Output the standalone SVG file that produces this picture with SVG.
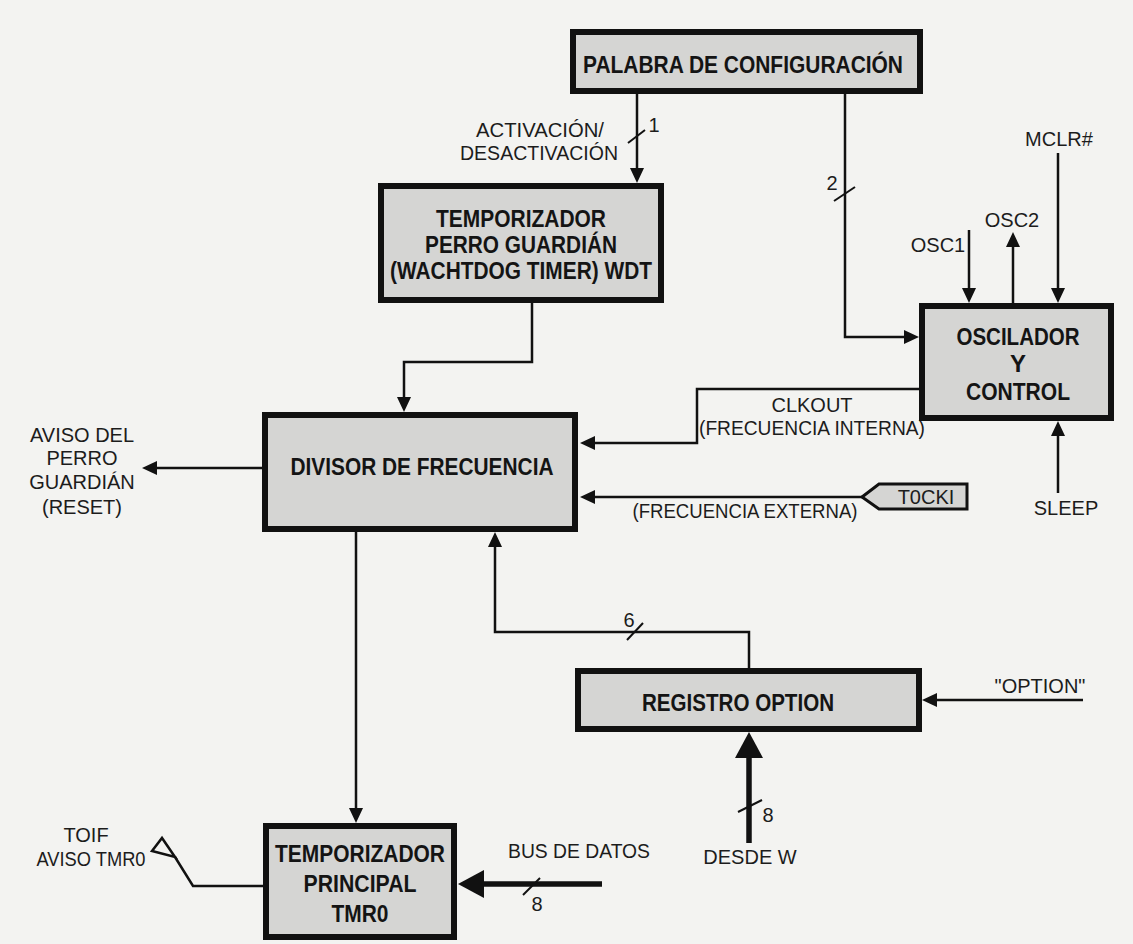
<svg xmlns="http://www.w3.org/2000/svg" width="1133" height="944" viewBox="0 0 1133 944">
  <style>
    .box { fill: #d5d5d3; stroke: #111; stroke-width: 6; }
    .tag { fill: #d5d5d3; stroke: #111; stroke-width: 3; }
    .node { font-family: "Liberation Sans", Arial, sans-serif; font-weight: bold; font-size: 24px; fill: #141414; text-anchor: middle; }
    .lbl { font-family: "Liberation Sans", Arial, sans-serif; font-size: 20px; fill: #1c1c1c; text-anchor: middle; }
    .wire { fill: none; stroke: #111; stroke-width: 2.5; }
    .bus { fill: none; stroke: #111; stroke-width: 5.5; }
    .tick { stroke: #111; stroke-width: 2; }
  </style>
  <defs>
    <marker id="arrow" markerUnits="userSpaceOnUse" markerWidth="16" markerHeight="16" viewBox="0 -8 16 16" refX="0" refY="0" orient="auto">
      <path d="M0,-7 L15,0 L0,7 Z" fill="#111"/>
    </marker>
    <marker id="arrowBig" markerUnits="userSpaceOnUse" markerWidth="28" markerHeight="32" viewBox="0 -16 28 32" refX="0" refY="0" orient="auto">
      <path d="M0,-14 L26,0 L0,14 Z" fill="#111"/>
    </marker>
  </defs>

  <rect width="1133" height="944" fill="#f3f3f1"/>

  <!-- connectors -->
  <g id="connectors">
    <path class="wire" d="M637,94 V168" marker-end="url(#arrow)"/>
    <path class="wire" d="M845,94 V337 H904" marker-end="url(#arrow)"/>
    <path class="wire" d="M969,230 V288" marker-end="url(#arrow)"/>
    <path class="wire" d="M1013,303 V247" marker-end="url(#arrow)"/>
    <path class="wire" d="M1058,153 V288" marker-end="url(#arrow)"/>
    <path class="wire" d="M1058,493 V436" marker-end="url(#arrow)"/>
    <path class="wire" d="M919,389 H697 V443 H595" marker-end="url(#arrow)"/>
    <path class="wire" d="M862,497 H595" marker-end="url(#arrow)"/>
    <path class="wire" d="M532,303 V362 H404 V397" marker-end="url(#arrow)"/>
    <path class="wire" d="M262,468 H157" marker-end="url(#arrow)"/>
    <path class="wire" d="M356,532 V808" marker-end="url(#arrow)"/>
    <path class="wire" d="M749,668 V632 H495 V547" marker-end="url(#arrow)"/>
    <path class="wire" d="M1083,700 H937" marker-end="url(#arrow)"/>
    <path class="bus" d="M749,843 V758" marker-end="url(#arrowBig)"/>
    <path class="bus" d="M602,884 H484" marker-end="url(#arrowBig)"/>
    <path class="wire" d="M263,886 H193 L175,857"/>
    <polygon class="wire" points="175,857 162,838 152,851"/>

    <!-- bit-width ticks -->
    <line class="tick" x1="628" y1="143" x2="645" y2="130"/>
    <line class="tick" x1="834" y1="201" x2="855" y2="187"/>
    <line class="tick" x1="627" y1="640" x2="643" y2="623"/>
    <line class="tick" x1="738" y1="812" x2="762" y2="800"/>
    <line class="tick" x1="523" y1="895" x2="540" y2="878"/>

    <text class="lbl" x="654" y="132">1</text>
    <text class="lbl" x="832" y="190">2</text>
    <text class="lbl" x="629" y="627">6</text>
    <text class="lbl" x="768" y="822">8</text>
    <text class="lbl" x="537" y="911">8</text>
  </g>

  <!-- signal labels -->
  <g id="labels">
    <text class="lbl" x="540" y="137" textLength="128" lengthAdjust="spacingAndGlyphs">ACTIVACIÓN/</text>
    <text class="lbl" x="539" y="160" textLength="158" lengthAdjust="spacingAndGlyphs">DESACTIVACIÓN</text>
    <text class="lbl" x="1059" y="146">MCLR#</text>
    <text class="lbl" x="1012" y="227">OSC2</text>
    <text class="lbl" x="938" y="252">OSC1</text>
    <text class="lbl" x="1066" y="515">SLEEP</text>
    <text class="lbl" x="812" y="412">CLKOUT</text>
    <text class="lbl" x="812" y="435" textLength="226" lengthAdjust="spacingAndGlyphs">(FRECUENCIA INTERNA)</text>
    <text class="lbl" x="745" y="518" textLength="225" lengthAdjust="spacingAndGlyphs">(FRECUENCIA EXTERNA)</text>
    <text class="lbl" x="82" y="442">AVISO DEL</text>
    <text class="lbl" x="82" y="465">PERRO</text>
    <text class="lbl" x="82" y="489">GUARDIÁN</text>
    <text class="lbl" x="82" y="514">(RESET)</text>
    <text class="lbl" x="1040" y="693">"OPTION"</text>
    <text class="lbl" x="750" y="864">DESDE W</text>
    <text class="lbl" x="579" y="858" textLength="142" lengthAdjust="spacingAndGlyphs">BUS DE DATOS</text>
    <text class="lbl" x="86" y="842">TOIF</text>
    <text class="lbl" x="91" y="866" textLength="109" lengthAdjust="spacingAndGlyphs">AVISO TMR0</text>
  </g>

  <g id="palabra">
    <rect class="box" x="573" y="32" width="347" height="59"/>
    <text class="node" x="743" y="73" textLength="320" lengthAdjust="spacingAndGlyphs">PALABRA DE CONFIGURACIÓN</text>
  </g>

  <g id="wdt">
    <rect class="box" x="381" y="186" width="280" height="114"/>
    <text class="node" x="521" y="227" textLength="170" lengthAdjust="spacingAndGlyphs">TEMPORIZADOR</text>
    <text class="node" x="521" y="253" textLength="192" lengthAdjust="spacingAndGlyphs">PERRO GUARDIÁN</text>
    <text class="node" x="521" y="279" textLength="262" lengthAdjust="spacingAndGlyphs">(WACHTDOG TIMER) WDT</text>
  </g>

  <g id="oscilador">
    <rect class="box" x="922" y="306" width="189" height="112"/>
    <text class="node" x="1018" y="345" textLength="123" lengthAdjust="spacingAndGlyphs">OSCILADOR</text>
    <text class="node" x="1018" y="372">Y</text>
    <text class="node" x="1018" y="400" textLength="104" lengthAdjust="spacingAndGlyphs">CONTROL</text>
  </g>

  <g id="divisor">
    <rect class="box" x="265" y="415" width="310" height="114"/>
    <text class="node" x="422" y="475" textLength="263" lengthAdjust="spacingAndGlyphs">DIVISOR DE FRECUENCIA</text>
  </g>

  <g id="t0cki">
    <polygon class="tag" points="862,497 879,484 967,484 967,509 879,509"/>
    <text class="lbl" x="926" y="504">T0CKI</text>
  </g>

  <g id="option">
    <rect class="box" x="578" y="671" width="341" height="58"/>
    <text class="node" x="738" y="711" textLength="192" lengthAdjust="spacingAndGlyphs">REGISTRO OPTION</text>
  </g>

  <g id="tmr0">
    <rect class="box" x="266" y="826" width="188" height="111"/>
    <text class="node" x="360" y="862" textLength="170" lengthAdjust="spacingAndGlyphs">TEMPORIZADOR</text>
    <text class="node" x="360" y="892" textLength="113" lengthAdjust="spacingAndGlyphs">PRINCIPAL</text>
    <text class="node" x="360" y="922" textLength="57" lengthAdjust="spacingAndGlyphs">TMR0</text>
  </g>
</svg>
